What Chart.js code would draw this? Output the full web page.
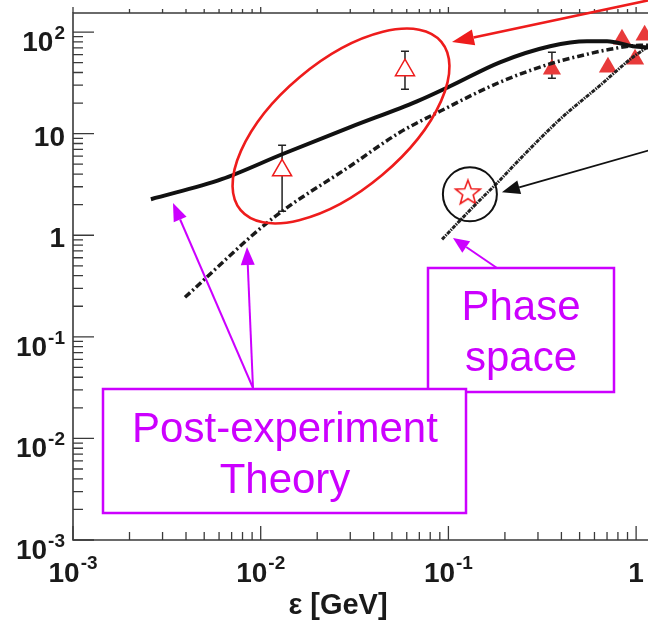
<!DOCTYPE html>
<html>
<head>
<meta charset="utf-8">
<script src="https://cdn.jsdelivr.net/npm/chart.js@4.4.1/dist/chart.umd.min.js"></script>
<style>
  html, body { margin: 0; padding: 0; background: #fff; }
  canvas { display: block; }
</style>
</head>
<body>
<canvas id="chart" width="648" height="631"></canvas>
<script>
// post-experiment theory, solid curve
const solidE = [0.0026, 0.0062, 0.013, 0.03, 0.068, 0.102, 0.188, 0.348, 0.547, 0.70, 0.96, 1.2];
const solidV = [2.26, 3.56, 6.27, 11.6, 20.8, 29.3, 50.4, 72.5, 81.2, 81.2, 72.5, 70];

// post-experiment theory, dash-dot curve
const theoryE = [0.00395, 0.0116, 0.0299, 0.0552, 0.0902, 0.188, 0.356, 0.521, 0.726, 1.05, 1.2];
const theoryV = [0.245, 1.47, 4.78, 10.3, 16.6, 32.1, 49.3, 59.1, 67.7, 74, 74];

// phase space curve
const phaseE = [0.0925, 0.135, 0.188, 0.240, 0.394, 0.643, 0.96, 1.2];
const phaseV = [0.91, 1.89, 3.48, 5.6, 13.9, 29.9, 56.5, 75];

// open triangles with error bars
const openE = [0.013, 0.0587];
const openV = [4.36, 42.1];
const openHi = [7.69, 64.7];
const openLo = [1.72, 27.4];

// filled triangles
const filledE = [0.356, 0.708, 0.841, 0.987, 1.11];
const filledV = [43.0, 45.1, 84.9, 54.0, 93.0];
const filledHi = [63.2, null, null, null, null];
const filledLo = [35.0, null, null, null, null];

// star
const starE = [0.127];
const starV = [2.59];

// axes
const xTickValues = [1e-3, 1e-2, 1e-1, 1];
const xTickLabels = ['10^-3', '10^-2', '10^-1', '1'];
const yTickValues = [1e-3, 1e-2, 1e-1, 1, 10, 100];
const yTickLabels = ['10^-3', '10^-2', '10^-1', '1', '10', '10^2'];
const xTitle = 'ε [GeV]';

const FONT = '"Liberation Sans", Arial, Helvetica, sans-serif';
const RED = '#ee1c1c';
const VIOLET = '#cc00ff';

function pts(xs, ys) {
  return xs.map((x, i) => ({ x: x, y: ys[i] }));
}

function starImage(R, r, color) {
  const c = document.createElement('canvas');
  const s = Math.ceil(2 * R + 4);
  c.width = c.height = s;
  const g = c.getContext('2d');
  g.strokeStyle = color;
  g.lineWidth = 1.6;
  g.beginPath();
  for (let i = 0; i < 10; i++) {
    const a = -Math.PI / 2 + i * Math.PI / 5;
    const rad = i % 2 ? r : R;
    const px = s / 2 + Math.cos(a) * rad;
    const py = s / 2 + Math.sin(a) * rad;
    if (i === 0) g.moveTo(px, py); else g.lineTo(px, py);
  }
  g.closePath();
  g.stroke();
  return c;
}

// "10^-2" -> base + superscript
function drawPow(ctx, label, x, tickY, align, isX) {
  const parts = label.split('^');
  const baseFont = 'bold 28px ' + FONT;
  const supFont = 'bold 19px ' + FONT;
  ctx.font = baseFont;
  const wb = ctx.measureText(parts[0]).width;
  let ws = 0;
  if (parts[1]) { ctx.font = supFont; ws = ctx.measureText(parts[1]).width + 1; }
  const w = wb + ws;
  let x0 = align === 'right' ? x - w : x - w / 2;
  let baseY, supY;
  if (isX) { baseY = tickY; supY = tickY - 13; }
  else if (parts[1]) { baseY = tickY + 19; supY = tickY + 7; }
  else { baseY = tickY + 12; }
  ctx.textAlign = 'left';
  ctx.textBaseline = 'alphabetic';
  ctx.fillStyle = '#1a1a1a';
  ctx.font = baseFont;
  ctx.fillText(parts[0], x0, baseY);
  if (parts[1]) {
    ctx.font = supFont;
    ctx.fillText(parts[1], x0 + wb + 1, supY);
  }
}

function arrow(ctx, x1, y1, x2, y2, color, lw, len, half) {
  const a = Math.atan2(y2 - y1, x2 - x1);
  const bx = x2 - Math.cos(a) * len, by = y2 - Math.sin(a) * len;
  ctx.strokeStyle = color;
  ctx.fillStyle = color;
  ctx.lineWidth = lw;
  ctx.beginPath();
  ctx.moveTo(x1, y1);
  ctx.lineTo(bx, by);
  ctx.stroke();
  ctx.beginPath();
  ctx.moveTo(x2, y2);
  ctx.lineTo(bx + Math.sin(a) * half, by - Math.cos(a) * half);
  ctx.lineTo(bx - Math.sin(a) * half, by + Math.cos(a) * half);
  ctx.closePath();
  ctx.fill();
}

function calloutBox(ctx, l, t, r, b, lines, cx, baselines) {
  ctx.fillStyle = '#fff';
  ctx.fillRect(l, t, r - l, b - t);
  ctx.strokeStyle = VIOLET;
  ctx.lineWidth = 2.5;
  ctx.strokeRect(l, t, r - l, b - t);
  ctx.fillStyle = VIOLET;
  ctx.font = '42px ' + FONT;
  ctx.textAlign = 'center';
  ctx.textBaseline = 'alphabetic';
  lines.forEach((s, i) => ctx.fillText(s, cx, baselines[i]));
}

const frame = {
  id: 'frame',
  beforeDatasetsDraw(chart) {
    const ctx = chart.ctx, xs = chart.scales.x, ys = chart.scales.y;
    ctx.save();
    ctx.strokeStyle = '#222';
    ctx.lineWidth = 1.5;
    const bars = [[openE, openHi, openLo], [filledE, filledHi, filledLo]];
    bars.forEach(([es, hi, lo]) => {
      es.forEach((e, i) => {
        if (hi[i] == null) return;
        const x = xs.getPixelForValue(e);
        const yt = ys.getPixelForValue(hi[i]);
        const yb = ys.getPixelForValue(lo[i]);
        ctx.beginPath();
        ctx.moveTo(x, yt); ctx.lineTo(x, yb);
        ctx.moveTo(x - 4, yt); ctx.lineTo(x + 4, yt);
        ctx.moveTo(x - 4, yb); ctx.lineTo(x + 4, yb);
        ctx.stroke();
      });
    });
    ctx.restore();
  },
  afterDraw(chart) {
    const ctx = chart.ctx, xs = chart.scales.x, ys = chart.scales.y;
    const a = chart.chartArea;
    ctx.save();

    // frame
    ctx.strokeStyle = '#3a3a3a';
    ctx.lineWidth = 1.6;
    ctx.beginPath();
    ctx.moveTo(a.right + 2, a.top);
    ctx.lineTo(a.left, a.top);
    ctx.lineTo(a.left, a.bottom);
    ctx.lineTo(a.right + 2, a.bottom);
    ctx.stroke();

    // ticks
    ctx.lineWidth = 1.3;
    ctx.beginPath();
    for (let d = -3; d <= 2; d++) {
      for (let m = 1; m <= 9; m++) {
        const v = m * Math.pow(10, d);
        if (v > ys.max) break;
        const y = ys.getPixelForValue(v);
        ctx.moveTo(a.left, y);
        ctx.lineTo(a.left + (m === 1 ? 21 : 10), y);
      }
    }
    for (let d = -3; d <= 0; d++) {
      for (let m = 1; m <= 9; m++) {
        const v = m * Math.pow(10, d);
        if (v > xs.max) break;
        const x = xs.getPixelForValue(v);
        ctx.moveTo(x, a.bottom);
        ctx.lineTo(x, a.bottom - (m === 1 ? 14 : 8));
        ctx.moveTo(x, a.top);
        ctx.lineTo(x, a.top - (m === 1 ? 6 : 4));
      }
    }
    ctx.stroke();

    // tick labels
    yTickValues.forEach((v, i) => drawPow(ctx, yTickLabels[i], 65, ys.getPixelForValue(v), 'right', false));
    xTickValues.forEach((v, i) => drawPow(ctx, xTickLabels[i], xs.getPixelForValue(v), 582, 'center', true));

    // axis title
    ctx.fillStyle = '#1a1a1a';
    ctx.font = 'bold 29px ' + FONT;
    ctx.textAlign = 'center';
    ctx.fillText(xTitle, 338, 614);

    // ellipse around the open triangles
    ctx.strokeStyle = RED;
    ctx.lineWidth = 2.6;
    ctx.beginPath();
    ctx.ellipse(341, 126, 131, 64, -40 * Math.PI / 180, 0, Math.PI * 2);
    ctx.stroke();
    arrow(ctx, 650, 0, 452, 42, RED, 2.6, 22, 8);

    // circle around the star
    const sx = xs.getPixelForValue(starE[0]) + 2;
    const sy = ys.getPixelForValue(starV[0]) + 1;
    ctx.strokeStyle = '#111';
    ctx.lineWidth = 2;
    ctx.beginPath();
    ctx.arc(sx, sy, 27, 0, Math.PI * 2);
    ctx.stroke();
    arrow(ctx, 650, 150, sx + 32, sy - 2, '#111', 1.8, 18, 7);

    // callouts
    arrow(ctx, 253, 388, 173, 203, VIOLET, 2, 18, 7);
    arrow(ctx, 253, 388, 247, 247, VIOLET, 2, 18, 7);
    arrow(ctx, 497, 268, 453, 238, VIOLET, 2, 16, 7);
    calloutBox(ctx, 428, 268, 614, 392, ['Phase', 'space'], 521, [320, 371]);
    calloutBox(ctx, 103, 389, 466, 513, ['Post-experiment', 'Theory'], 285, [442, 493]);

    ctx.restore();
  }
};

new Chart(document.getElementById('chart').getContext('2d'), {
  type: 'line',
  data: {
    datasets: [{
      label: 'Post-experiment theory',
      data: pts(solidE, solidV),
      borderColor: '#111',
      borderWidth: 4,
      pointRadius: 0,
      cubicInterpolationMode: 'monotone',
      order: 0
    }, {
      label: 'Post-experiment theory (dash-dot)',
      data: pts(theoryE, theoryV),
      borderColor: '#1a1a1a',
      borderWidth: 3.5,
      borderDash: [7, 3, 2, 3],
      pointRadius: 0,
      cubicInterpolationMode: 'monotone',
      order: 0
    }, {
      label: 'Phase space',
      data: pts(phaseE, phaseV),
      borderColor: '#222',
      borderWidth: 3,
      borderDash: [4, 1, 1.5, 1],
      pointRadius: 0,
      cubicInterpolationMode: 'monotone',
      order: 0
    }, {
      label: 'open',
      data: pts(openE, openV),
      showLine: false,
      pointStyle: 'triangle',
      pointRadius: 11,
      pointBorderWidth: 1.5,
      pointBorderColor: RED,
      pointBackgroundColor: '#fff',
      order: 1
    }, {
      label: 'filled',
      data: pts(filledE, filledV),
      showLine: false,
      pointStyle: 'triangle',
      pointRadius: 10.5,
      pointBorderWidth: 0,
      pointBackgroundColor: '#e83a3a',
      order: 1
    }, {
      label: 'star',
      data: pts(starE, starV),
      showLine: false,
      pointStyle: starImage(13, 5.5, RED),
      order: 1
    }]
  },
  options: {
    responsive: false,
    animation: false,
    events: [],
    layout: { autoPadding: false, padding: { left: 73, top: 13, right: 0, bottom: 91 } },
    plugins: { legend: { display: false }, tooltip: { enabled: false } },
    scales: {
      x: { type: 'logarithmic', display: false, min: 1e-3, max: 1.157 },
      y: { type: 'logarithmic', display: false, min: 1e-3, max: 154 }
    }
  },
  plugins: [frame]
});
</script>
</body>
</html>
